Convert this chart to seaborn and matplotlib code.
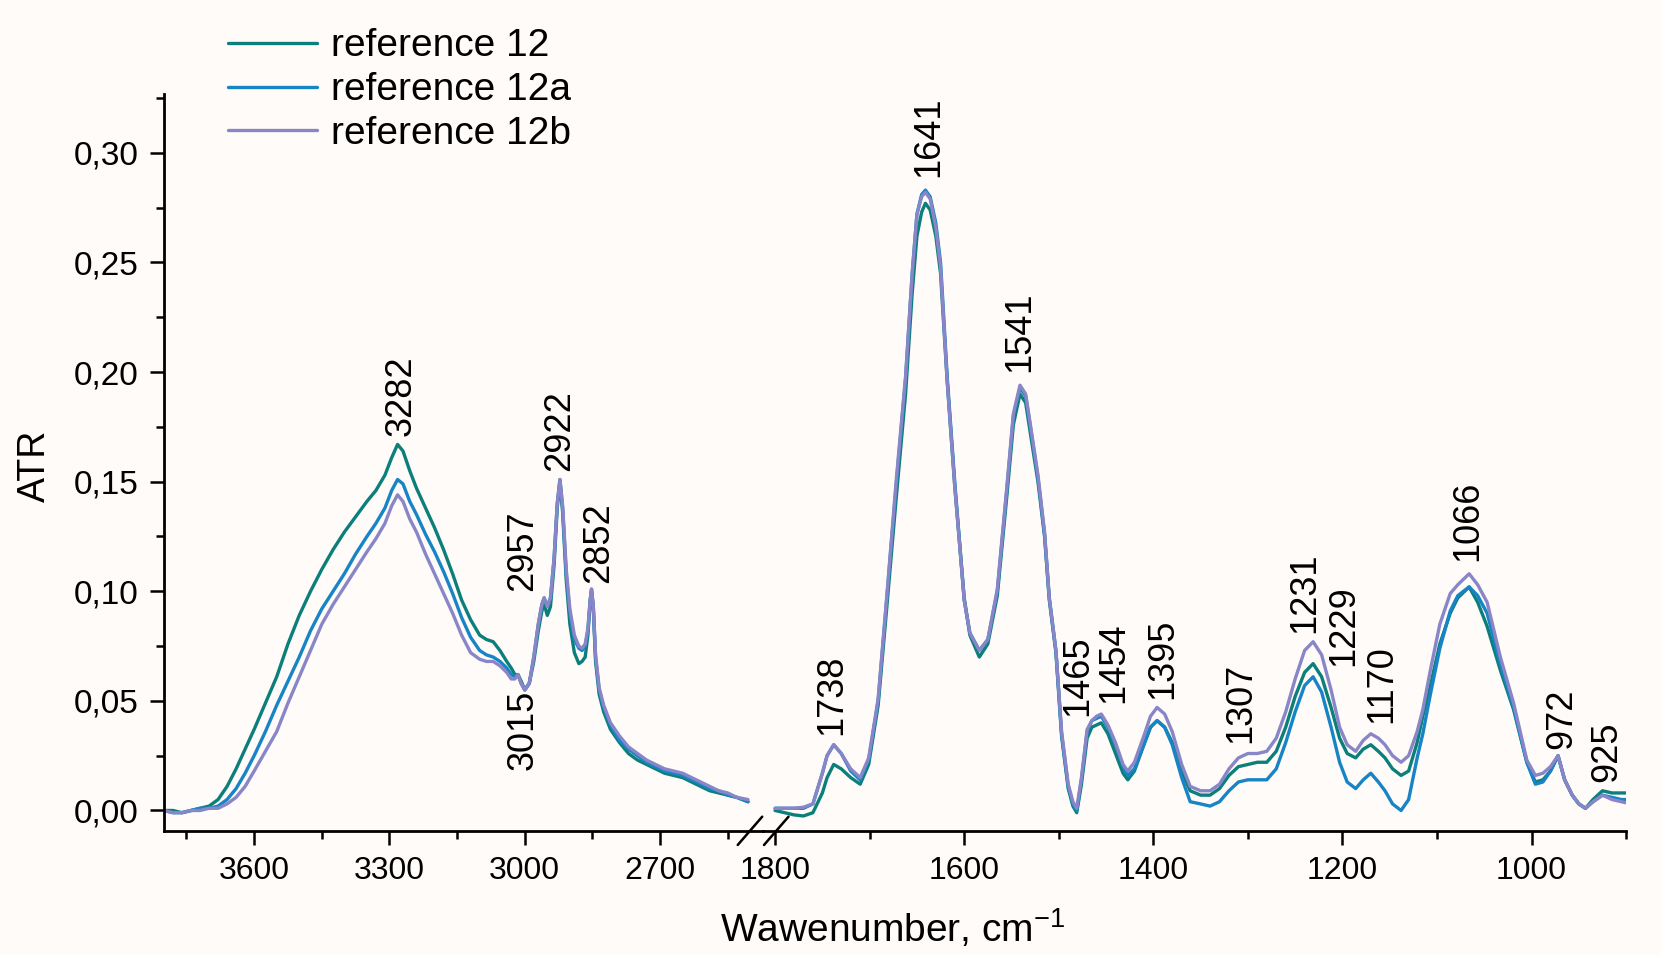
import matplotlib
matplotlib.use("Agg")
import numpy as np
import pandas as pd
import seaborn as sns
import matplotlib.pyplot as plt
from matplotlib.ticker import MultipleLocator, FuncFormatter
from matplotlib.lines import Line2D

# high wavenumber part of the spectrum, cm-1
wn_high = [3800, 3780, 3760, 3740, 3720, 3700, 3680, 3660, 3640, 3620,
           3600, 3575, 3550, 3525, 3500, 3475, 3450, 3425, 3400, 3375,
           3350, 3330, 3310, 3295, 3282, 3270, 3255, 3240, 3220, 3200,
           3180, 3160, 3140, 3120, 3100, 3085, 3070, 3055, 3040, 3030,
           3022, 3015, 3008, 3000, 2990, 2980, 2970, 2962, 2957, 2950,
           2943, 2935, 2928, 2922, 2916, 2908, 2900, 2890, 2880, 2873,
           2866, 2860, 2855, 2852, 2848, 2843, 2835, 2825, 2810, 2790,
           2770, 2750, 2730, 2710, 2690, 2670, 2650, 2630, 2610, 2590,
           2570, 2550, 2530, 2505]

ref12_high = [0.000, 0.000, -0.001, 0.000, 0.001, 0.002, 0.005, 0.011, 0.019, 0.028,
              0.037, 0.049, 0.061, 0.076, 0.089, 0.100, 0.110, 0.119, 0.127, 0.134,
              0.141, 0.146, 0.153, 0.161, 0.167, 0.164, 0.155, 0.147, 0.138, 0.129,
              0.119, 0.108, 0.096, 0.087, 0.080, 0.078, 0.077, 0.073, 0.068, 0.065,
              0.062, 0.062, 0.059, 0.055, 0.058, 0.068, 0.082, 0.091, 0.094, 0.089,
              0.093, 0.112, 0.138, 0.150, 0.136, 0.105, 0.085, 0.072, 0.067, 0.068,
              0.070, 0.080, 0.095, 0.100, 0.092, 0.068, 0.053, 0.045, 0.037, 0.031,
              0.026, 0.023, 0.021, 0.019, 0.017, 0.016, 0.015, 0.013, 0.011, 0.009,
              0.008, 0.007, 0.006, 0.004]

ref12a_high = [0.000, -0.001, -0.001, 0.000, 0.001, 0.001, 0.002, 0.005, 0.010, 0.017,
               0.025, 0.036, 0.048, 0.059, 0.070, 0.082, 0.092, 0.100, 0.108, 0.117,
               0.125, 0.131, 0.138, 0.146, 0.151, 0.149, 0.141, 0.135, 0.126, 0.118,
               0.109, 0.099, 0.088, 0.079, 0.073, 0.071, 0.070, 0.068, 0.065, 0.062,
               0.061, 0.062, 0.058, 0.055, 0.058, 0.070, 0.085, 0.094, 0.097, 0.093,
               0.097, 0.115, 0.140, 0.151, 0.138, 0.108, 0.090, 0.078, 0.074, 0.073,
               0.075, 0.082, 0.096, 0.101, 0.093, 0.070, 0.055, 0.047, 0.039, 0.032,
               0.028, 0.025, 0.022, 0.020, 0.018, 0.017, 0.016, 0.014, 0.012, 0.010,
               0.009, 0.007, 0.006, 0.004]

ref12b_high = [0.000, -0.001, -0.001, 0.000, 0.000, 0.001, 0.001, 0.003, 0.006, 0.011,
               0.018, 0.027, 0.036, 0.049, 0.061, 0.073, 0.085, 0.094, 0.102, 0.110,
               0.118, 0.124, 0.131, 0.139, 0.144, 0.141, 0.133, 0.127, 0.117, 0.108,
               0.099, 0.090, 0.080, 0.072, 0.069, 0.068, 0.068, 0.066, 0.063, 0.060,
               0.060, 0.062, 0.058, 0.055, 0.058, 0.070, 0.085, 0.094, 0.097, 0.093,
               0.097, 0.115, 0.140, 0.151, 0.139, 0.110, 0.092, 0.080, 0.075, 0.074,
               0.076, 0.083, 0.096, 0.101, 0.093, 0.071, 0.056, 0.048, 0.040, 0.034,
               0.029, 0.026, 0.023, 0.021, 0.019, 0.018, 0.017, 0.015, 0.013, 0.011,
               0.009, 0.008, 0.006, 0.005]

# fingerprint part of the spectrum, cm-1
wn_low = [1800, 1790, 1780, 1770, 1760, 1750, 1745, 1738, 1730, 1720,
          1710, 1701, 1691, 1682, 1672, 1662, 1655, 1650, 1645, 1641,
          1636, 1630, 1625, 1618, 1610, 1600, 1594, 1584, 1575, 1565,
          1555, 1548, 1541, 1535, 1530, 1522, 1515, 1510, 1503, 1497,
          1490, 1485, 1481, 1476, 1470, 1465, 1460, 1455, 1448, 1440,
          1432, 1427, 1420, 1410, 1403, 1396, 1388, 1380, 1370, 1361,
          1350, 1340, 1330, 1320, 1310, 1300, 1290, 1280, 1270, 1260,
          1250, 1240, 1231, 1222, 1212, 1203, 1195, 1186, 1178, 1170,
          1162, 1155, 1147, 1138, 1130, 1121, 1115, 1107, 1097, 1086,
          1078, 1066, 1057, 1047, 1033, 1019, 1005, 996, 988, 980,
          972, 965, 957, 950, 943, 935, 925, 915, 905, 900]

ref12_low = [0.000, -0.001, -0.002, -0.0025, -0.001, 0.008, 0.015, 0.021, 0.019, 0.015,
             0.012, 0.021, 0.048, 0.092, 0.142, 0.190, 0.236, 0.262, 0.273, 0.277,
             0.274, 0.262, 0.245, 0.196, 0.148, 0.097, 0.080, 0.070, 0.076, 0.098,
             0.143, 0.176, 0.190, 0.186, 0.172, 0.150, 0.125, 0.096, 0.072, 0.034,
             0.010, 0.002, -0.001, 0.012, 0.033, 0.038, 0.039, 0.040, 0.035, 0.026,
             0.017, 0.014, 0.018, 0.030, 0.038, 0.041, 0.038, 0.031, 0.018, 0.009,
             0.007, 0.007, 0.010, 0.016, 0.020, 0.021, 0.022, 0.022, 0.027, 0.038,
             0.052, 0.063, 0.067, 0.061, 0.047, 0.033, 0.026, 0.024, 0.028, 0.030,
             0.027, 0.024, 0.019, 0.016, 0.018, 0.031, 0.043, 0.057, 0.076, 0.090,
             0.097, 0.102, 0.095, 0.084, 0.064, 0.046, 0.022, 0.013, 0.014, 0.018,
             0.025, 0.014, 0.007, 0.003, 0.001, 0.005, 0.009, 0.008, 0.008, 0.008]

ref12a_low = [0.001, 0.001, 0.001, 0.001, 0.003, 0.017, 0.025, 0.030, 0.026, 0.018,
              0.014, 0.023, 0.050, 0.096, 0.148, 0.197, 0.245, 0.272, 0.281, 0.283,
              0.280, 0.268, 0.250, 0.198, 0.150, 0.096, 0.081, 0.073, 0.078, 0.100,
              0.146, 0.180, 0.193, 0.189, 0.175, 0.152, 0.126, 0.097, 0.073, 0.035,
              0.011, 0.003, 0.000, 0.014, 0.036, 0.041, 0.042, 0.043, 0.038, 0.030,
              0.020, 0.016, 0.019, 0.030, 0.038, 0.041, 0.038, 0.030, 0.015, 0.004,
              0.003, 0.002, 0.004, 0.009, 0.013, 0.014, 0.014, 0.014, 0.019, 0.031,
              0.045, 0.057, 0.061, 0.054, 0.038, 0.022, 0.013, 0.010, 0.014, 0.017,
              0.013, 0.009, 0.003, 0.000, 0.005, 0.024, 0.035, 0.053, 0.074, 0.091,
              0.098, 0.102, 0.098, 0.090, 0.067, 0.047, 0.022, 0.012, 0.013, 0.018,
              0.025, 0.014, 0.007, 0.003, 0.001, 0.004, 0.007, 0.006, 0.005, 0.005]

ref12b_low = [0.001, 0.001, 0.001, 0.0015, 0.003, 0.017, 0.025, 0.030, 0.026, 0.019,
              0.015, 0.024, 0.051, 0.097, 0.150, 0.198, 0.245, 0.272, 0.280, 0.282,
              0.279, 0.266, 0.248, 0.196, 0.148, 0.096, 0.081, 0.073, 0.078, 0.101,
              0.147, 0.181, 0.194, 0.190, 0.176, 0.153, 0.127, 0.097, 0.073, 0.036,
              0.012, 0.004, 0.001, 0.015, 0.037, 0.041, 0.043, 0.044, 0.039, 0.031,
              0.021, 0.018, 0.022, 0.034, 0.043, 0.047, 0.044, 0.036, 0.021, 0.011,
              0.009, 0.009, 0.012, 0.019, 0.024, 0.026, 0.026, 0.027, 0.033, 0.045,
              0.060, 0.073, 0.077, 0.071, 0.055, 0.038, 0.030, 0.027, 0.032, 0.035,
              0.033, 0.030, 0.025, 0.022, 0.025, 0.036, 0.046, 0.064, 0.085, 0.099,
              0.103, 0.108, 0.103, 0.095, 0.070, 0.049, 0.023, 0.016, 0.017, 0.020,
              0.025, 0.014, 0.007, 0.003, 0.001, 0.004, 0.007, 0.005, 0.004, 0.0035]

samples = ["reference 12", "reference 12a", "reference 12b"]
colors = ["#0c7f7b", "#1784c6", "#8986c8"]

# peak labels: text, x (cm-1), bottom of label (ATR)
peaks_high = ["3282", "2957", "2922", "2852"]
peaks_high_x = [3275, 3004, 2923, 2837]
peaks_high_y = [0.171, 0.100, 0.155, 0.104]
# this one hangs below the curve
dip_label, dip_x, dip_y = "3015", 3003, 0.055

peaks_low = ["1738", "1641", "1541", "1465", "1454", "1395", "1307",
             "1231", "1229", "1170", "1066", "972", "925"]
peaks_low_x = [1740, 1637, 1541, 1480, 1442, 1390, 1308,
               1240, 1199, 1158, 1068, 968, 920]
peaks_low_y = [0.0345, 0.289, 0.200, 0.043, 0.049, 0.051, 0.031,
               0.081, 0.066, 0.040, 0.114, 0.028, 0.013]


def long_form(wn, series):
    parts = []
    for name, vals in zip(samples, series):
        parts.append(pd.DataFrame({"wn": wn, "atr": vals, "sample": name}))
    return pd.concat(parts, ignore_index=True)


df_high = long_form(wn_high, [ref12_high, ref12a_high, ref12b_high])
df_low = long_form(wn_low, [ref12_low, ref12a_low, ref12b_low])

sns.set_theme(style="ticks")
plt.rcParams["font.family"] = ["Liberation Sans", "DejaVu Sans"]
plt.rcParams["mathtext.default"] = "regular"
for key in ("text.color", "axes.labelcolor", "xtick.color", "ytick.color",
            "axes.edgecolor", "legend.labelcolor"):
    plt.rcParams[key] = "black"
bg = "#fffbf8"

fig = plt.figure(figsize=(16.61, 9.55), dpi=100, facecolor=bg)
ax1 = fig.add_axes([0.0987, 0.1302, 0.3606, 0.7710])
ax2 = fig.add_axes([0.4594, 0.1302, 0.5196, 0.7710], sharey=ax1)

for ax, df in ((ax1, df_high), (ax2, df_low)):
    sns.lineplot(data=df, x="wn", y="atr", hue="sample", hue_order=samples,
                 palette=colors, estimator=None, sort=False, legend=False,
                 linewidth=2.4, ax=ax)
    ax.set_facecolor("none")
    ax.set_xlabel("")
    ax.set_ylabel("")
    for s in ("top", "right"):
        ax.spines[s].set_visible(False)
    for s in ("left", "bottom"):
        ax.spines[s].set_linewidth(2.0)
    ax.tick_params(which="major", length=10, width=1.8, labelsize=23, pad=8)
    ax.tick_params(which="minor", length=5.5, width=1.8)
    ax.tick_params(axis="x", bottom=True, which="both")

ax1.set_xlim(3800, 2472)
ax1.xaxis.set_major_locator(MultipleLocator(300))
ax1.xaxis.set_minor_locator(MultipleLocator(150))
ax1.set_ylim(-0.0092, 0.3267)
ax1.yaxis.set_major_locator(MultipleLocator(0.05))
ax1.yaxis.set_minor_locator(MultipleLocator(0.025))
ax1.yaxis.set_major_formatter(FuncFormatter(lambda v, p: f"{v:.2f}".replace(".", ",")))
ax1.tick_params(axis="y", which="both", left=True)
ax1.tick_params(axis="y", which="major", pad=8, labelsize=24)

ax2.set_xlim(1812.7, 900)
ax2.xaxis.set_major_locator(MultipleLocator(200))
ax2.xaxis.set_minor_locator(MultipleLocator(100))
ax2.spines["left"].set_visible(False)
ax2.tick_params(axis="y", which="both", left=False, labelleft=False)

ann = dict(rotation=90, ha="center", fontsize=26, color="black")
for t, x, y in zip(peaks_high, peaks_high_x, peaks_high_y):
    ax1.text(x, y, t, va="bottom", **ann)
ax1.text(dip_x, dip_y, dip_label, va="top", **ann)
for t, x, y in zip(peaks_low, peaks_low_x, peaks_low_y):
    ax2.text(x, y, t, va="bottom", **ann)

# axis break marks
W, H = 1661, 955
for x0 in (737.7, 764.0):
    fig.add_artist(Line2D([x0 / W, (x0 + 24.5) / W], [1 - 845 / H, 1 - 816.7 / H],
                          color="black", lw=1.8))

fig.text(893 / W, 13.3 / H, r"Wawenumber, cm$^{-1}$", ha="center", va="baseline",
         fontsize=28)
fig.text(35 / W, 1 - 466 / H, "ATR", rotation=90, ha="center", va="center", fontsize=27)

handles = ax1.get_lines()[:3]
fig.legend(handles, samples, loc="upper left", bbox_to_anchor=(228 / W, 1 - 28.5 / H),
           frameon=False, fontsize=28, handlelength=2.3, handletextpad=0.36,
           labelspacing=0.2, borderpad=0, borderaxespad=0)

fig.savefig("out.png", dpi=100, facecolor=bg)
